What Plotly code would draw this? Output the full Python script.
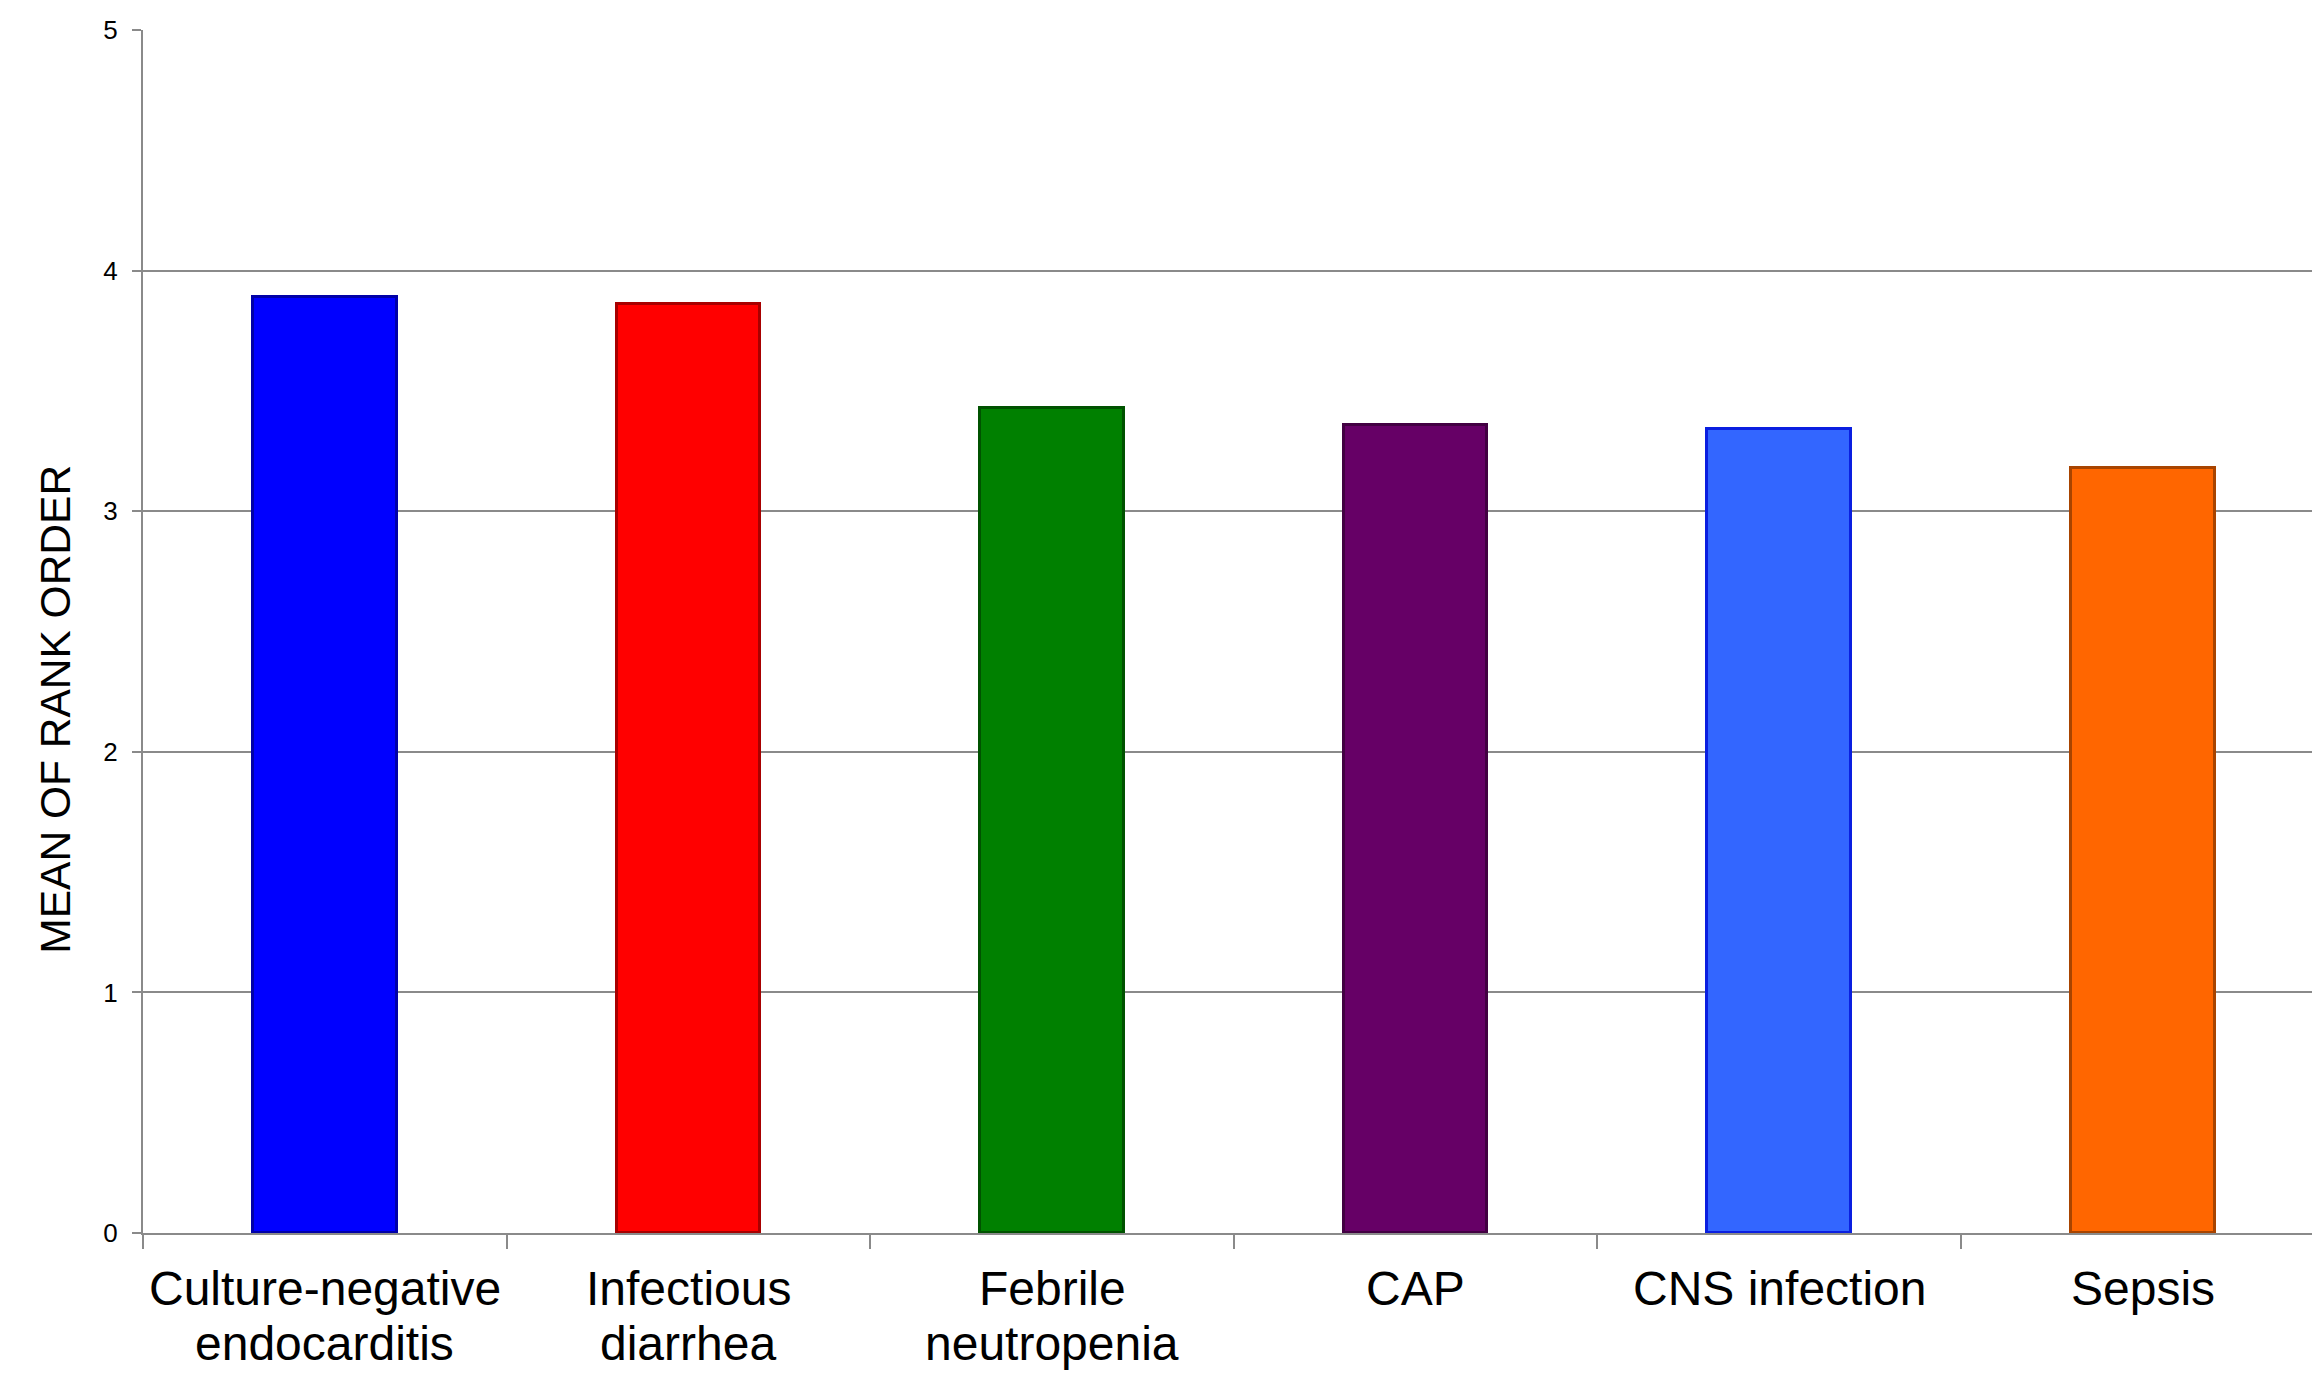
import plotly.graph_objects as go

# Diagnoses (two-line labels split into separate lines) and mean rank order
categories = ["Culture-negative endocarditis", "Infectious diarrhea", "Febrile neutropenia",
              "CAP", "CNS infection", "Sepsis"]
label_line1 = ["Culture-negative", "Infectious", "Febrile", "CAP", "CNS infection", "Sepsis"]
label_line2 = ["endocarditis", "diarrhea", "neutropenia", "", "", ""]
mean_rank = [3.89, 3.86, 3.43, 3.36, 3.34, 3.18]

fill_colors = ["#0000FF", "#FF0000", "#008000", "#660066", "#3366FF", "#FF6600"]
edge_colors = ["#0000A8", "#A80000", "#005200", "#420042", "#0A1FE0", "#A84400"]

y_ticks = [0, 1, 2, 3, 4, 5]

FONT = "Liberation Sans, Arial, sans-serif"
AXIS_GRAY = "#8a8a8a"

fig = go.Figure()
fig.add_trace(go.Bar(
    x=categories,
    y=mean_rank,
    width=0.395,
    marker=dict(color=fill_colors, line=dict(color=edge_colors, width=3)),
    showlegend=False,
))

annotations = []
for cat, l1, l2 in zip(categories, label_line1, label_line2):
    annotations.append(dict(x=cat, xref="x", y=0, yref="paper", text=l1,
                            showarrow=False, xanchor="center", yanchor="top",
                            yshift=-28, borderpad=0,
                            font=dict(family=FONT, size=48, color="black")))
    if l2:
        annotations.append(dict(x=cat, xref="x", y=0, yref="paper", text=l2,
                                showarrow=False, xanchor="center", yanchor="top",
                                yshift=-83, borderpad=0,
                                font=dict(family=FONT, size=48, color="black")))

# Axis title, placed a bit below the vertical middle of the plot
annotations.append(dict(x=-0.0401, xref="paper", y=0.435, yref="paper",
                        text="MEAN OF RANK ORDER", textangle=-90, showarrow=False,
                        xanchor="center", yanchor="middle",
                        font=dict(family=FONT, size=42.5, color="black")))

fig.update_layout(
    width=2312, height=1382,
    margin=dict(l=143, r=0, t=29.5, b=149.3),
    paper_bgcolor="white", plot_bgcolor="white",
    font=dict(family=FONT, color="black"),
    annotations=annotations,
    bargap=0,
)
fig.update_xaxes(
    type="category",
    range=[-0.5, 5.465],
    showticklabels=False,
    tickson="boundaries",
    ticks="outside", ticklen=14, tickwidth=2, tickcolor=AXIS_GRAY,
    showline=True, linecolor=AXIS_GRAY, linewidth=2,
    showgrid=False,
)
fig.update_yaxes(
    range=[0, 5],
    tickvals=y_ticks,
    ticks="outside", ticklen=9, tickwidth=2, tickcolor=AXIS_GRAY,
    tickfont=dict(family=FONT, size=26, color="black"),
    ticklabelstandoff=9,
    showline=True, linecolor=AXIS_GRAY, linewidth=2,
    showgrid=True, gridcolor=AXIS_GRAY, gridwidth=2,
    zeroline=False,
)

fig.write_html("out.html")
